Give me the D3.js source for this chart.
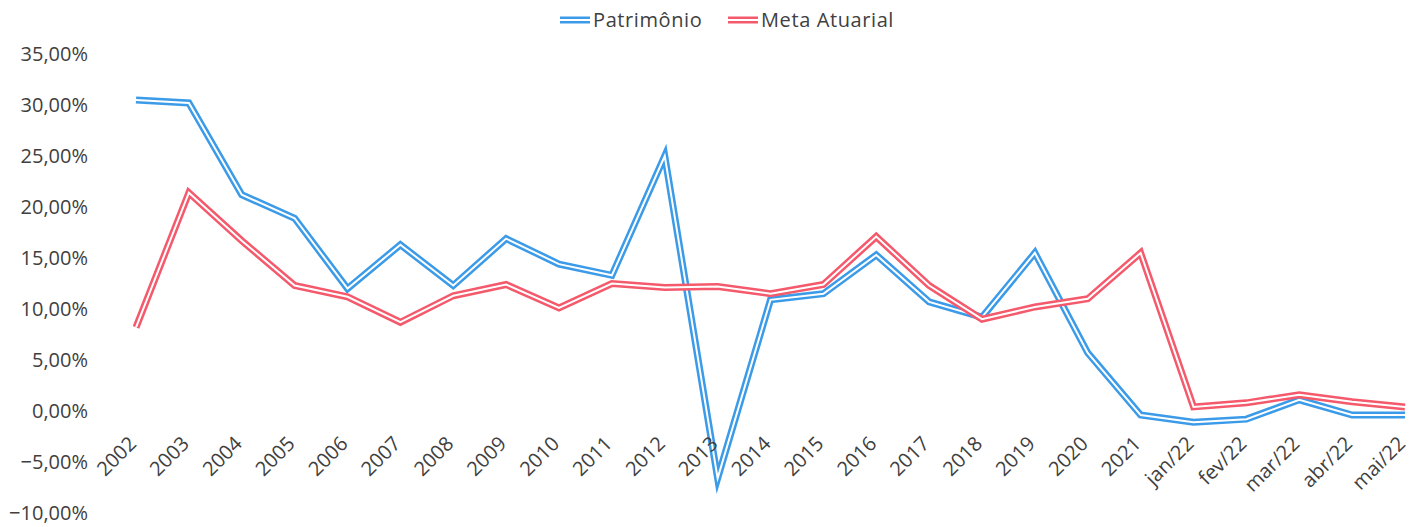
<!DOCTYPE html>
<html>
<head>
<meta charset="utf-8">
<script src="https://cdn.jsdelivr.net/npm/d3@7"></script>
<style>
  body { margin: 0; background: #fff; }
  svg text { font-family: "Open Sans", sans-serif; fill: #404040; }
</style>
</head>
<body>
<svg id="chart" width="1424" height="527"></svg>
<script>
// categories on the x axis
const categories = ["2002", "2003", "2004", "2005", "2006", "2007", "2008", "2009", "2010", "2011",
  "2012", "2013", "2014", "2015", "2016", "2017", "2018", "2019", "2020", "2021",
  "jan/22", "fev/22", "mar/22", "abr/22", "mai/22"];

// Patrimônio (%)
const patrimonio = [30.5, 30.2, 21.2, 18.9, 12.0, 16.3, 12.3, 16.9, 14.4, 13.3,
  25.0, -6.6, 10.9, 11.5, 15.3, 10.7, 9.2, 15.5, 5.7, -0.4,
  -1.1, -0.8, 1.1, -0.4, -0.4];

// Meta Atuarial (%)
const meta = [8.2, 21.4, 16.7, 12.3, 11.2, 8.7, 11.3, 12.4, 10.1, 12.5,
  12.1, 12.2, 11.5, 12.4, 17.1, 12.3, 9.0, 10.2, 11.0, 15.5,
  0.4, 0.8, 1.6, 0.9, 0.4];

const yTicks = [35, 30, 25, 20, 15, 10, 5, 0, -5, -10];

const series = [
  { name: "Patrimônio", values: patrimonio, color: "#3b9be8" },
  { name: "Meta Atuarial", values: meta, color: "#f4596c" }
];

const svg = d3.select("#chart");

const x = d3.scalePoint().domain(categories).range([136, 1405]);
const y = d3.scaleLinear().domain([-10, 35]).range([513, 54]);

const fmt = v => d3.format(".2f")(v).replace(".", ",") + "%";

// lines: coloured stroke with a thin white line inside
const line = d3.line()
  .x((d, i) => x(categories[i]))
  .y(d => y(d));

series.forEach(s => {
  svg.append("path")
    .datum(s.values)
    .attr("fill", "none")
    .attr("stroke", s.color)
    .attr("stroke-width", 7)
    .attr("stroke-linejoin", "miter")
    .attr("stroke-miterlimit", 10)
    .attr("d", line);
  svg.append("path")
    .datum(s.values)
    .attr("fill", "none")
    .attr("stroke", "#fff")
    .attr("stroke-width", 2)
    .attr("stroke-linejoin", "miter")
    .attr("stroke-miterlimit", 10)
    .attr("d", line);
});

// y axis labels
const yAxis = svg.append("g")
  .attr("transform", "translate(88,0)")
  .call(d3.axisLeft(y).tickValues(yTicks).tickSize(0).tickPadding(0).tickFormat(fmt));
yAxis.select(".domain").remove();
yAxis.selectAll("text")
  .attr("font-size", 20)
  .attr("font-family", "Open Sans, sans-serif")
  .attr("fill", "#404040");

// x axis labels, rotated (drawn over the lines)
const xAxis = svg.append("g")
  .attr("transform", "translate(0," + y(0) + ")")
  .call(d3.axisBottom(x).tickSize(0).tickPadding(0));
xAxis.select(".domain").remove();
xAxis.selectAll("text")
  .attr("font-size", 20)
  .attr("font-family", "Open Sans, sans-serif")
  .attr("fill", "#404040")
  .attr("text-anchor", "end")
  .attr("dy", 0)
  .attr("transform", "translate(1,34) rotate(-45)");

// legend
const legendItems = [
  { name: "Patrimônio", color: "#3b9be8", x: 560 },
  { name: "Meta Atuarial", color: "#f4596c", x: 728 }
];
const legend = svg.append("g");
legendItems.forEach(item => {
  const g = legend.append("g").attr("transform", "translate(" + item.x + ",20)");
  g.append("line").attr("x1", 0).attr("x2", 30).attr("y1", 0).attr("y2", 0)
    .attr("stroke", item.color).attr("stroke-width", 7);
  g.append("line").attr("x1", 0).attr("x2", 30).attr("y1", 0).attr("y2", 0)
    .attr("stroke", "#fff").attr("stroke-width", 2);
  g.append("text").attr("x", 33).attr("y", 7)
    .attr("font-size", 20)
    .attr("letter-spacing", 0.6)
    .text(item.name);
});
</script>
</body>
</html>
